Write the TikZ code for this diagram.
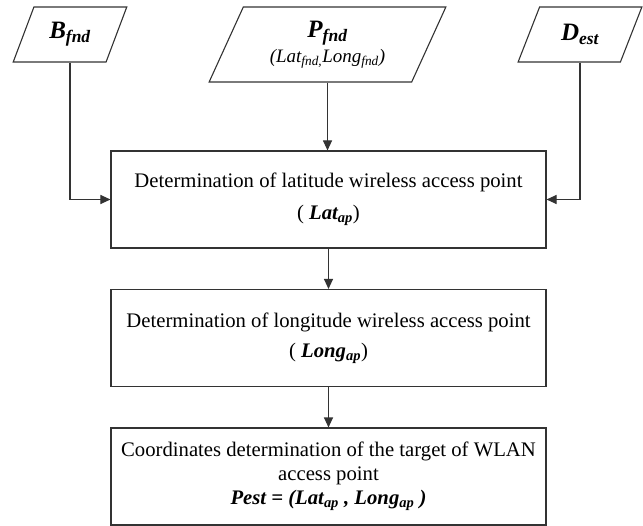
\documentclass[tikz,border=0pt]{standalone}
\usepackage{fontspec}
\setmainfont{Liberation Serif}
\usetikzlibrary{shapes.geometric,arrows.meta}
\newcommand\mysub[1]{\textsubscript{#1}}
\begin{document}
\begin{tikzpicture}[x=1bp,y=-1bp,
  lineclr/.style={draw=black!80, line width=1.1bp},
  inbox/.style={lineclr, shape=trapezium, trapezium left angle=63.5, trapezium right angle=116.5,
     trapezium stretches=true, inner sep=0pt, align=center, fill=white},
  procbox/.style={lineclr, rectangle, minimum width=435bp, minimum height=97bp, inner sep=0pt,
     align=center, font=\fontsize{20.7bp}{24bp}\selectfont},
  conn/.style={lineclr, -{Triangle[length=10bp,width=9bp]}}
]
\useasboundingbox (0,0) rectangle (643,526);
\node[inbox, minimum width=114bp, minimum height=55bp, font=\fontsize{25bp}{26bp}\selectfont] (B) at (70,34.5)
  {\textbf{\textit{B\mysub{fnd}}}};
\node[inbox, minimum width=237bp, minimum height=75bp] (P) at (327.5,44.5)
  {{\fontsize{25bp}{26bp}\selectfont\textbf{\textit{P\mysub{fnd}}}}\\[3bp]
   {\fontsize{19bp}{20bp}\selectfont\textit{(Lat\mysub{fnd,}Long\mysub{fnd})}}};
\node[inbox, minimum width=124bp, minimum height=55bp, font=\fontsize{25bp}{26bp}\selectfont] (D) at (580,34.5)
  {\textbf{\textit{D\mysub{est}}}};
\node[procbox] (L1) at (328.5,199.5)
  {Determination of latitude wireless access point\\[8bp]
   ( \textbf{\textit{Lat\mysub{ap}}})};
\node[procbox] (L2) at (328.5,338)
  {Determination of longitude wireless access point\\[6bp]
   ( \textbf{\textit{Long\mysub{ap}}})};
\node[procbox] (L3) at (328.5,476.5)
  {Coordinates determination of the target of WLAN\\
   access point\\
   \textbf{\textit{Pest = (Lat\mysub{ap} , Long\mysub{ap} )}}};
\draw[conn] (B.south) |- (L1.west);
\draw[conn] (D.south) |- (L1.east);
\draw[conn] (P.south) -- (P.south |- L1.north);
\draw[conn] (L1.south) -- (L2.north);
\draw[conn] (L2.south) -- (L3.north);
\end{tikzpicture}
\end{document}
